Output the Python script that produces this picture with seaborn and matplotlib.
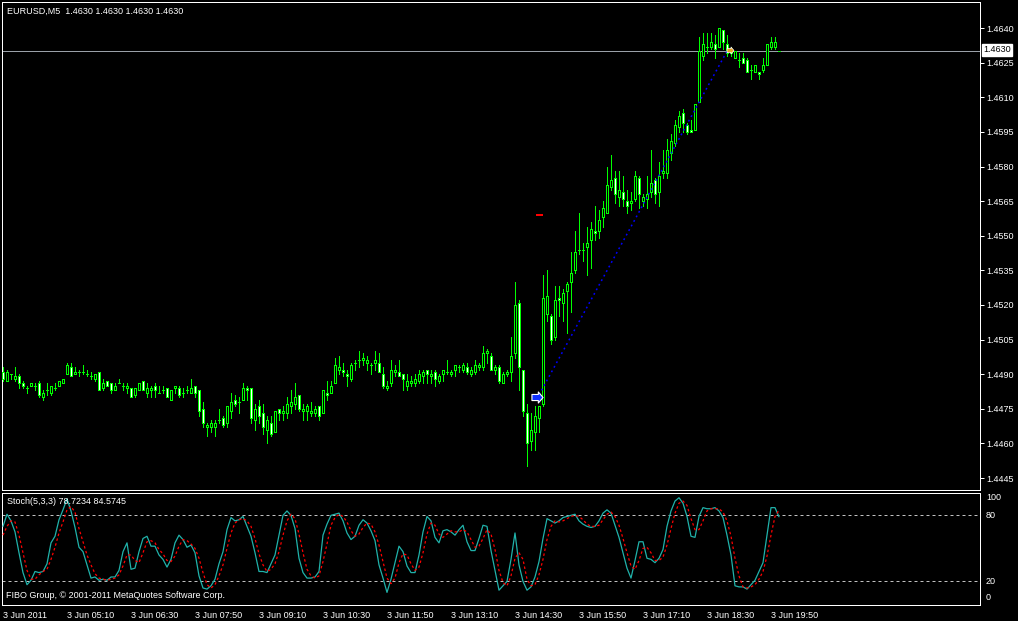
import numpy as np
import pandas as pd
import matplotlib
matplotlib.use("Agg")
import matplotlib.pyplot as plt
import seaborn as sns
from matplotlib.path import Path

# EURUSD M5, 3 Jun 2011, bars from 03:50 to 20:00
opens = [1.4491, 1.4487, 1.4490, 1.4488, 1.4489, 1.4486, 1.4484, 1.4485, 1.4485, 1.4486, 1.4480, 1.4483, 1.4482,
         1.4484, 1.4485, 1.4486, 1.4490, 1.4493, 1.4490, 1.4491, 1.4491, 1.4490, 1.4489, 1.4488, 1.4491, 1.4484,
         1.4487, 1.4486, 1.4483, 1.4486, 1.4485, 1.4484, 1.4484, 1.4481, 1.4483, 1.4487, 1.4482, 1.4483, 1.4485,
         1.4482, 1.4483, 1.4484, 1.4479, 1.4484, 1.4484, 1.4482, 1.4483, 1.4482, 1.4485, 1.4483, 1.4475, 1.4467,
         1.4467, 1.4467, 1.4470, 1.4471, 1.4469, 1.4474, 1.4479, 1.4478, 1.4479, 1.4484, 1.4484, 1.4470, 1.4476,
         1.4473, 1.4466, 1.4469, 1.4465, 1.4475, 1.4473, 1.4473, 1.4476, 1.4477, 1.4481, 1.4474, 1.4474, 1.4473,
         1.4473, 1.4476, 1.4473, 1.4482, 1.4482, 1.4486, 1.4492, 1.4492, 1.4490, 1.4488, 1.4495, 1.4496, 1.4496,
         1.4495, 1.4494, 1.4495, 1.4495, 1.4490, 1.4484, 1.4486, 1.4491, 1.4491, 1.4490, 1.4485, 1.4486, 1.4486,
         1.4487, 1.4489, 1.4492, 1.4489, 1.4491, 1.4487, 1.4490, 1.4491, 1.4490, 1.4492, 1.4493, 1.4492, 1.4493,
         1.4490, 1.4491, 1.4493, 1.4493, 1.4499, 1.4498, 1.4492, 1.4493, 1.4486, 1.4490, 1.4491, 1.4499, 1.4521,
         1.4492, 1.4473, 1.4461, 1.4465, 1.4471, 1.4477, 1.4516, 1.4515, 1.4506, 1.4523, 1.4521, 1.4526, 1.4530,
         1.4535, 1.4544, 1.4544, 1.4545, 1.4548, 1.4552, 1.4552, 1.4558, 1.4560, 1.4571, 1.4575, 1.4567, 1.4569,
         1.4565, 1.4564, 1.4566, 1.4575, 1.4565, 1.4566, 1.4569, 1.4574, 1.4569, 1.4577, 1.4577, 1.4586, 1.4590,
         1.4597, 1.4603, 1.4598, 1.4596, 1.4596, 1.4608, 1.4628, 1.4632, 1.4632, 1.4633, 1.4632, 1.4639, 1.4633,
         1.4631, 1.4627, 1.4626, 1.4627, 1.4626, 1.4622, 1.4621, 1.4621, 1.4622, 1.4624, 1.4632, 1.4632, 1.4630]
highs = [1.4493, 1.4492, 1.4490, 1.4493, 1.4490, 1.4487, 1.4485, 1.4486, 1.4486, 1.4487, 1.4483, 1.4486, 1.4485,
         1.4486, 1.4487, 1.4488, 1.4495, 1.4495, 1.4493, 1.4492, 1.4494, 1.4492, 1.4491, 1.4490, 1.4491, 1.4488,
         1.4487, 1.4486, 1.4486, 1.4488, 1.4486, 1.4486, 1.4484, 1.4484, 1.4486, 1.4487, 1.4486, 1.4485, 1.4486,
         1.4485, 1.4485, 1.4484, 1.4483, 1.4485, 1.4485, 1.4484, 1.4485, 1.4488, 1.4485, 1.4483, 1.4478, 1.4469,
         1.4470, 1.4470, 1.4475, 1.4472, 1.4476, 1.4482, 1.4481, 1.4480, 1.4486, 1.4485, 1.4484, 1.4477, 1.4479,
         1.4477, 1.4472, 1.4472, 1.4474, 1.4475, 1.4476, 1.4480, 1.4483, 1.4486, 1.4481, 1.4477, 1.4477, 1.4478,
         1.4476, 1.4476, 1.4483, 1.4487, 1.4487, 1.4497, 1.4498, 1.4495, 1.4492, 1.4495, 1.4496, 1.4500, 1.4499,
         1.4498, 1.4495, 1.4500, 1.4499, 1.4493, 1.4487, 1.4496, 1.4494, 1.4496, 1.4490, 1.4490, 1.4489, 1.4490,
         1.4492, 1.4492, 1.4492, 1.4492, 1.4492, 1.4490, 1.4492, 1.4496, 1.4492, 1.4494, 1.4494, 1.4495, 1.4495,
         1.4493, 1.4496, 1.4495, 1.4502, 1.4501, 1.4499, 1.4494, 1.4494, 1.4491, 1.4492, 1.4506, 1.4530, 1.4522,
         1.4492, 1.4477, 1.4473, 1.4476, 1.4476, 1.4533, 1.4535, 1.4516, 1.4528, 1.4528, 1.4527, 1.4530, 1.4543,
         1.4552, 1.4560, 1.4547, 1.4554, 1.4556, 1.4563, 1.4561, 1.4565, 1.4580, 1.4585, 1.4578, 1.4578, 1.4576,
         1.4570, 1.4569, 1.4578, 1.4576, 1.4568, 1.4576, 1.4587, 1.4575, 1.4582, 1.4587, 1.4592, 1.4594, 1.4600,
         1.4604, 1.4605, 1.4599, 1.4600, 1.4607, 1.4636, 1.4638, 1.4638, 1.4638, 1.4637, 1.4640, 1.4639, 1.4637,
         1.4632, 1.4630, 1.4629, 1.4629, 1.4627, 1.4624, 1.4624, 1.4621, 1.4627, 1.4633, 1.4636, 1.4636, 1.4630]
lows = [1.4487, 1.4487, 1.4488, 1.4487, 1.4484, 1.4484, 1.4482, 1.4485, 1.4483, 1.4480, 1.4479, 1.4481, 1.4481,
        1.4483, 1.4485, 1.4486, 1.4490, 1.4489, 1.4490, 1.4489, 1.4490, 1.4489, 1.4488, 1.4487, 1.4483, 1.4483,
        1.4485, 1.4482, 1.4483, 1.4486, 1.4483, 1.4482, 1.4480, 1.4480, 1.4483, 1.4483, 1.4480, 1.4480, 1.4480,
        1.4482, 1.4482, 1.4480, 1.4479, 1.4482, 1.4480, 1.4480, 1.4482, 1.4482, 1.4480, 1.4472, 1.4467, 1.4463,
        1.4465, 1.4463, 1.4469, 1.4467, 1.4467, 1.4471, 1.4476, 1.4473, 1.4479, 1.4479, 1.4469, 1.4466, 1.4469,
        1.4464, 1.4460, 1.4463, 1.4465, 1.4470, 1.4470, 1.4471, 1.4473, 1.4475, 1.4474, 1.4470, 1.4470, 1.4472,
        1.4472, 1.4470, 1.4473, 1.4479, 1.4482, 1.4486, 1.4490, 1.4489, 1.4485, 1.4487, 1.4492, 1.4493, 1.4494,
        1.4492, 1.4490, 1.4492, 1.4491, 1.4484, 1.4483, 1.4485, 1.4489, 1.4489, 1.4483, 1.4483, 1.4485, 1.4485,
        1.4486, 1.4486, 1.4486, 1.4486, 1.4485, 1.4486, 1.4487, 1.4490, 1.4489, 1.4489, 1.4491, 1.4491, 1.4490,
        1.4489, 1.4490, 1.4492, 1.4492, 1.4495, 1.4492, 1.4490, 1.4486, 1.4486, 1.4489, 1.4487, 1.4497, 1.4483,
        1.4472, 1.4450, 1.4457, 1.4457, 1.4465, 1.4476, 1.4513, 1.4503, 1.4505, 1.4515, 1.4513, 1.4508, 1.4517,
        1.4534, 1.4542, 1.4539, 1.4533, 1.4536, 1.4548, 1.4549, 1.4554, 1.4560, 1.4570, 1.4564, 1.4563, 1.4563,
        1.4560, 1.4561, 1.4565, 1.4562, 1.4563, 1.4562, 1.4567, 1.4564, 1.4563, 1.4575, 1.4575, 1.4583, 1.4589,
        1.4595, 1.4595, 1.4594, 1.4595, 1.4596, 1.4608, 1.4626, 1.4629, 1.4631, 1.4627, 1.4632, 1.4631, 1.4628,
        1.4628, 1.4627, 1.4623, 1.4625, 1.4621, 1.4618, 1.4621, 1.4618, 1.4621, 1.4624, 1.4631, 1.4631, 1.4630]
closes = [1.4488, 1.4491, 1.4490, 1.4489, 1.4486, 1.4485, 1.4484, 1.4486, 1.4485, 1.4481, 1.4482, 1.4483, 1.4485,
          1.4484, 1.4487, 1.4488, 1.4494, 1.4489, 1.4491, 1.4491, 1.4491, 1.4490, 1.4489, 1.4490, 1.4483, 1.4486,
          1.4485, 1.4483, 1.4485, 1.4486, 1.4485, 1.4485, 1.4480, 1.4484, 1.4486, 1.4483, 1.4484, 1.4484, 1.4483,
          1.4482, 1.4483, 1.4480, 1.4483, 1.4485, 1.4481, 1.4482, 1.4483, 1.4484, 1.4482, 1.4474, 1.4469, 1.4468,
          1.4469, 1.4469, 1.4470, 1.4468, 1.4476, 1.4478, 1.4477, 1.4478, 1.4484, 1.4483, 1.4471, 1.4475, 1.4472,
          1.4467, 1.4470, 1.4464, 1.4474, 1.4473, 1.4474, 1.4477, 1.4478, 1.4480, 1.4475, 1.4475, 1.4476, 1.4474,
          1.4475, 1.4472, 1.4483, 1.4481, 1.4485, 1.4494, 1.4493, 1.4491, 1.4489, 1.4494, 1.4495, 1.4496, 1.4497,
          1.4496, 1.4494, 1.4496, 1.4491, 1.4485, 1.4485, 1.4492, 1.4492, 1.4489, 1.4488, 1.4487, 1.4487, 1.4488,
          1.4490, 1.4491, 1.4490, 1.4490, 1.4488, 1.4489, 1.4492, 1.4491, 1.4491, 1.4494, 1.4493, 1.4494, 1.4491,
          1.4492, 1.4494, 1.4494, 1.4499, 1.4500, 1.4492, 1.4493, 1.4487, 1.4490, 1.4491, 1.4498, 1.4520, 1.4493,
          1.4474, 1.4460, 1.4466, 1.4472, 1.4476, 1.4523, 1.4524, 1.4505, 1.4522, 1.4522, 1.4525, 1.4529, 1.4534,
          1.4543, 1.4544, 1.4544, 1.4547, 1.4553, 1.4551, 1.4557, 1.4562, 1.4572, 1.4574, 1.4568, 1.4570, 1.4566,
          1.4563, 1.4565, 1.4576, 1.4568, 1.4567, 1.4568, 1.4573, 1.4568, 1.4576, 1.4578, 1.4587, 1.4591, 1.4598,
          1.4602, 1.4599, 1.4595, 1.4595, 1.4607, 1.4630, 1.4633, 1.4632, 1.4634, 1.4631, 1.4640, 1.4634, 1.4629,
          1.4629, 1.4630, 1.4626, 1.4625, 1.4621, 1.4622, 1.4624, 1.4620, 1.4624, 1.4633, 1.4634, 1.4634, 1.4630]

# Stochastic(5,3,3): main line and signal line
stoch_k = [70, 81, 75, 65, 46, 28, 17, 21, 29, 28, 29, 36, 55, 61, 76, 85, 95, 84, 69, 51, 47, 35, 23, 24, 21,
           22, 21, 24, 24, 30, 47, 55, 31, 32, 47, 59, 61, 52, 52, 44, 40, 33, 40, 55, 62, 58, 51, 53, 46, 25,
           14, 13, 16, 22, 36, 47, 67, 78, 75, 76, 79, 70, 61, 46, 29, 29, 28, 36, 44, 62, 80, 84, 80, 68, 41,
           28, 23, 23, 24, 29, 62, 72, 80, 81, 82, 75, 64, 58, 61, 71, 76, 73, 66, 57, 35, 23, 10, 22, 37, 52,
           47, 34, 28, 28, 44, 65, 79, 75, 60, 55, 66, 67, 65, 62, 67, 71, 56, 48, 48, 59, 71, 70, 48, 30, 12,
           16, 20, 40, 64, 35, 20, 12, 15, 24, 38, 59, 77, 75, 73, 75, 78, 79, 80, 81, 75, 72, 70, 69, 70, 75,
           82, 85, 82, 71, 60, 46, 32, 23, 39, 56, 56, 41, 40, 37, 41, 49, 70, 84, 93, 96, 91, 79, 61, 60, 79,
           87, 86, 86, 87, 84, 78, 62, 44, 16, 15, 15, 13, 17, 21, 29, 37, 62, 87, 87, 78.7]
stoch_d = [62, 70, 75, 74, 62, 46, 30, 22, 22, 26, 29, 31, 40, 51, 64, 74, 85, 88, 83, 68, 56, 44, 35, 27, 23,
           22, 21, 22, 23, 26, 34, 44, 44, 39, 37, 46, 56, 57, 55, 49, 45, 39, 38, 43, 52, 58, 57, 54, 50, 41,
           28, 17, 14, 17, 25, 35, 50, 64, 73, 76, 77, 75, 70, 59, 45, 35, 29, 31, 36, 47, 62, 75, 81, 77, 63,
           46, 31, 25, 23, 25, 38, 54, 71, 78, 81, 79, 74, 66, 61, 63, 69, 73, 72, 65, 53, 38, 23, 18, 23, 37,
           45, 44, 36, 30, 33, 46, 63, 73, 71, 63, 60, 63, 66, 65, 65, 67, 65, 58, 51, 52, 59, 67, 63, 49, 30,
           19, 16, 25, 41, 46, 40, 22, 16, 17, 26, 40, 58, 70, 75, 74, 75, 77, 79, 80, 79, 76, 72, 70, 70, 71,
           76, 81, 83, 79, 71, 59, 46, 34, 31, 39, 50, 51, 46, 39, 39, 42, 53, 68, 82, 91, 93, 89, 77, 67, 67,
           75, 84, 86, 86, 86, 83, 75, 61, 41, 25, 15, 14, 15, 17, 22, 29, 43, 62, 79, 84.6]

price_ticks = [1.4445, 1.4460, 1.4475, 1.4490, 1.4505, 1.4520, 1.4535,
               1.4550, 1.4565, 1.4580, 1.4595, 1.4610, 1.4625, 1.4640]
time_tick_bars = [0, 16, 32, 48, 64, 80, 96, 112, 128, 144, 160, 176, 192]
time_labels = ["3 Jun 2011", "3 Jun 05:10", "3 Jun 06:30", "3 Jun 07:50", "3 Jun 09:10",
               "3 Jun 10:30", "3 Jun 11:50", "3 Jun 13:10", "3 Jun 14:30", "3 Jun 15:50",
               "3 Jun 17:10", "3 Jun 18:30", "3 Jun 19:50"]

bid_price = 1.4630
trade_bars = [134, 181]
trade_prices = [1.4481, 1.4630]
stop_price = 1.4559

LIME = "#00ff00"
PX = 0.72  # one pixel in points

sns.set_style("dark", {"axes.facecolor": "black", "figure.facecolor": "black", "axes.grid": False})
plt.rcParams['font.family'] = ['Liberation Sans', 'DejaVu Sans']
plt.rcParams['font.size'] = 6.5

W, H = 1018, 621
fig = plt.figure(figsize=(W / 100, H / 100), dpi=100, facecolor="black")


def box(l, t, r, b):
    return [l / W, 1 - b / H, (r - l) / W, (b - t) / H]


def ftext(x, y, s, **kw):
    fig.text(x / W, 1 - y / H, s, color=kw.pop("color", "white"), fontsize=6.5,
             va="center", ha=kw.pop("ha", "left"), **kw)


ax = fig.add_axes(box(2, 2, 980, 490))
ax2 = fig.add_axes(box(2, 493, 980, 604.5))

df = pd.DataFrame({"open": opens, "high": highs, "low": lows, "close": closes})
df["bar"] = np.arange(len(df))
up = df["close"] >= df["open"]
dn = ~up

# candles
ax.vlines(df["bar"], df["low"], df["high"], color=LIME, lw=PX, antialiased=False, zorder=2)
ax.bar(df["bar"][up], (df["close"] - df["open"])[up], bottom=df["open"][up], width=0.5,
       color="black", edgecolor=LIME, linewidth=PX, antialiased=False, zorder=3)
ax.bar(df["bar"][dn], (df["open"] - df["close"])[dn], bottom=df["close"][dn], width=0.5,
       color="white", edgecolor=LIME, linewidth=PX, antialiased=False, zorder=3)

ax.axhline(bid_price, color="#9aa0a8", lw=PX, zorder=1)
ax.plot(trade_bars, trade_prices, color="#0000ff", lw=1.1, linestyle=(0, (1.2, 2.2)), zorder=4)
ax.hlines(stop_price, 133.3, 135.0, color="#ff0000", lw=1.2, antialiased=False, zorder=6)

arrow = Path([(-1, -0.55), (0.15, -0.55), (0.15, -1), (1, 0), (0.15, 1), (0.15, 0.55), (-1, 0.55), (-1, -0.55)],
             [Path.MOVETO] + [Path.LINETO] * 6 + [Path.CLOSEPOLY])
ax.plot([133.5], [1.4480], marker=arrow, markersize=8, markerfacecolor="#1030ff",
        markeredgecolor="white", markeredgewidth=0.8, zorder=5)
ax.plot([181.8], [1.46305], marker=arrow, markersize=5, markerfacecolor="#e8a020",
        markeredgecolor="white", markeredgewidth=0.5, zorder=5)

ax.set_xlim(-0.25, 244.25)
ax.set_ylim(1.44398, 1.46513)
ax.set_xticks([])
ax.yaxis.tick_right()
ax.set_yticks(price_ticks)
ax.set_yticklabels([f"{p:.4f}" for p in price_ticks])
ax.tick_params(axis="y", colors="white", length=3, width=PX, pad=1.5, labelsize=6.5, direction="out")

# stochastic window
bars = np.arange(len(stoch_k))
sns.lineplot(x=bars, y=stoch_k, color="#20b2aa", lw=0.9, ax=ax2, zorder=3)
sns.lineplot(x=bars, y=stoch_d, color="red", lw=0.9, linestyle=(0, (2, 2)), ax=ax2, zorder=4)
for lvl in (80, 20):
    ax2.axhline(lvl, color="#c0c0c0", lw=PX, linestyle=(0, (3, 3)), zorder=2)
ax2.set_xlim(-0.25, 244.25)
ax2.set_ylim(-1, 100.3)
ax2.set_yticks([])
ax2.set_xticks(time_tick_bars)
ax2.set_xticklabels(time_labels, ha="left")
ax2.tick_params(axis="x", colors="white", length=3, width=PX, pad=1.5, labelsize=6.5, direction="out")
ax2.set_xlabel("")
ax2.set_ylabel("")

for a in (ax, ax2):
    a.grid(False)
    a.set_facecolor("black")
    for s in a.spines.values():
        s.set_color("white")
        s.set_linewidth(PX)

ftext(7, 11, "EURUSD,M5  1.4630 1.4630 1.4630 1.4630")
ftext(7, 502, "Stoch(5,3,3) 78.7234 84.5745")
ftext(6, 596, "FIBO Group, \u00a9 2001-2011 MetaQuotes Software Corp.")
for lab, yy in (("100", 498), ("80", 515), ("20", 581), ("0", 598)):
    ftext(986, yy, lab)
fig.text(983.5 / W, 1 - 50 / H, "1.4630", color="black", fontsize=6.5, va="center", ha="left",
         bbox=dict(facecolor="white", edgecolor="white", boxstyle="square,pad=0.12"))

fig.savefig("out.png", dpi=100, facecolor="black")
